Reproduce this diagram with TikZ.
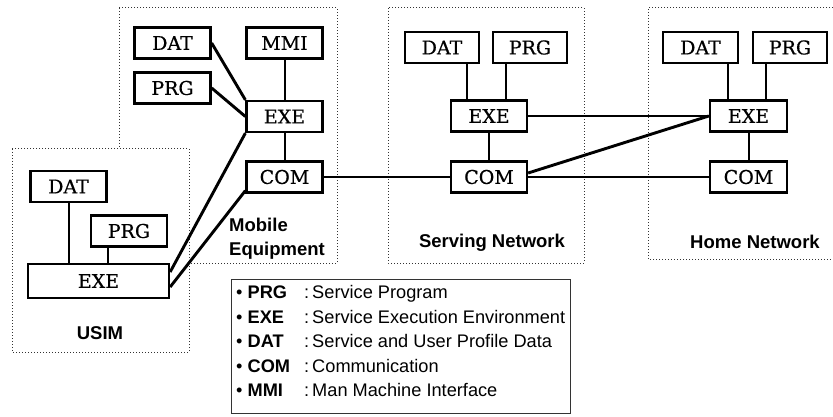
\documentclass[tikz,border=0pt]{standalone}
\usepackage{fontspec}
\setmainfont{DejaVu Serif}[FakeBold=0.6]
\newfontfamily\sansf{Liberation Sans}
\usetikzlibrary{calc}
\begin{document}
\begin{tikzpicture}[x=1pt,y=-1pt,
  blk/.style={draw, line width=2.3pt, minimum width=76pt, minimum height=31pt, inner sep=0pt,
    font=\fontsize{19}{22}\selectfont},
  link/.style={line width=2pt},
  diag/.style={line width=2.9pt},
  region/.style={line width=1pt, black!80, dash pattern=on 1pt off 2pt},
  lbl/.style={font=\sansf\bfseries\fontsize{18.5}{24}\selectfont, inner sep=0pt},
  leg/.style={font=\sansf\fontsize{18.2}{20}\selectfont, inner sep=0pt}]
\useasboundingbox (0,0) rectangle (833,417);
% regions
\draw[region] (119,8) rectangle (337,263);
\draw[region, fill=white] (12,149) rectangle (189,352);
\draw[region] (388,8) rectangle (584,263);
\draw[region] (836,8) -- (648,8) -- (648,259) -- (836,259);
% mobile equipment
\node[blk] (mdat) at (172.5,43) {DAT};
\node[blk] (mmmi) at (284.5,43) {MMI};
\node[blk] (mprg) at (172.5,88) {PRG};
\node[blk] (mexe) at (284.5,116.5) {EXE};
\node[blk] (mcom) at (284.5,177) {COM};
% USIM
\node[blk] (udat) at (68.5,186.5) {DAT};
\node[blk] (uprg) at (129,231) {PRG};
\node[blk, minimum width=141pt, minimum height=34pt] (uexe) at (98.5,281) {EXE};
% serving network
\node[blk, minimum width=74pt] (sdat) at (442,47.5) {DAT};
\node[blk, minimum width=74pt] (sprg) at (530,47.5) {PRG};
\node[blk] (sexe) at (489,116) {EXE};
\node[blk] (scom) at (489,177) {COM};
% home network
\node[blk, minimum width=75pt] (hdat) at (700.5,47.5) {DAT};
\node[blk, minimum width=74pt] (hprg) at (790,47.5) {PRG};
\node[blk, minimum width=77pt] (hexe) at (748.5,116) {EXE};
\node[blk, minimum width=77pt] (hcom) at (748.5,177) {COM};
% labels
\node[lbl, align=left, anchor=north west] (melbl) at (229,218) {Mobile\\Equipment};
\node[lbl] (ulbl) at (100,333) {USIM};
\node[lbl] (slbl) at (492,243) {Serving Network};
\node[lbl] (hlbl) at (755,242) {Home Network};
% connectors: mobile equipment / USIM
\draw[diag] (mdat.east) -- (mexe.north west);
\draw[diag] (mprg.east) -- (mexe.west);
\draw[link] (mmmi.south) -- (mexe.north);
\draw[link] (mexe.south) -- (mcom.north);
\coordinate (ua) at ($(uexe.east)+(0,-9)$);
\coordinate (ub) at ($(uexe.east)+(0,6)$);
\coordinate (mc) at ($(mcom.south west)+(0,-3)$);
\draw[diag] (ua) -- (mexe.south west);
\draw[diag] (ub) -- (mc);
\draw[link] (udat.south) -- (udat.south |- uexe.north);
\coordinate (up) at ($(uprg.south west)+(18,0)$);
\draw[link] (up) -- (up |- uexe.north);
% serving network
\coordinate (sd) at ($(sdat.south east)+(-13,0)$);
\coordinate (sp) at ($(sprg.south west)+(14,0)$);
\draw[link] (sd) -- (sd |- sexe.north);
\draw[link] (sp) -- (sp |- sexe.north);
\draw[link] (sexe.south) -- (scom.north);
% home network
\coordinate (hd) at ($(hdat.south east)+(-11,0)$);
\coordinate (hp) at ($(hprg.south west)+(14,0)$);
\draw[link] (hd) -- (hd |- hexe.north);
\draw[link] (hp) -- (hp |- hexe.north);
\draw[link] (hexe.south) -- (hcom.north);
% between domains
\draw[link] (mcom.east) -- (scom.west);
\draw[link] (sexe.east) -- (hexe.west);
\draw[link] (scom.east) -- (hcom.west);
\coordinate (sc) at ($(scom.east)+(0,-4)$);
\draw[diag] (sc) -- (hexe.west);
% legend
\node[draw, line width=1.4pt, black!80, minimum width=339pt, minimum height=134pt, inner sep=0pt, anchor=north west] (legend) at (231,279) {};
\foreach \yy/\kk/\dd [count=\i] in {292/PRG/Service Program, 316.5/EXE/Service Execution Environment, 341/DAT/Service and User Profile Data, 365.5/COM/Communication, 390/MMI/Man Machine Interface} {
  \node[leg, anchor=base west] (lk\i) at (236,\yy+6.5) {\textbullet\ \textbf{\kk}};
  \node[leg, anchor=base west] (ld\i) at (304,\yy+6.5) {:\hspace{3pt}\dd};
}
\end{tikzpicture}
\end{document}
